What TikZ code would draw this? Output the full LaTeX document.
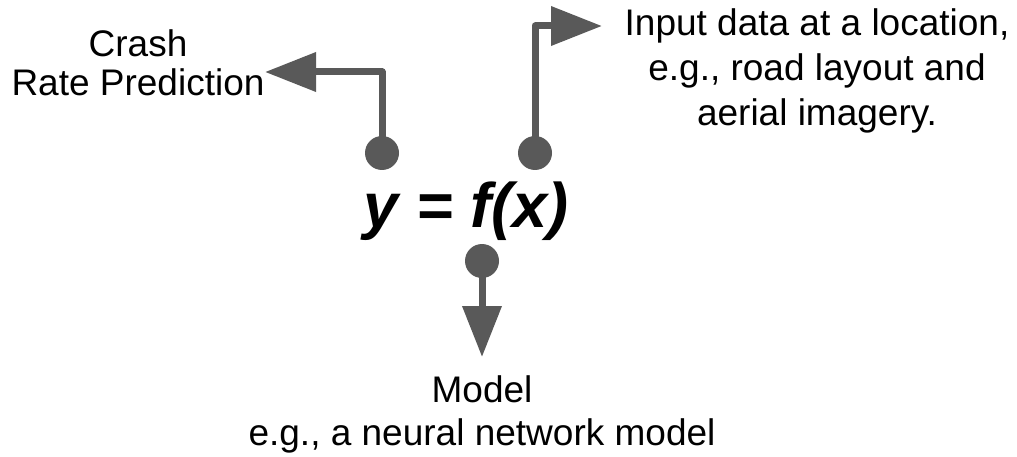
\documentclass[tikz,border=0pt]{standalone}
\usepackage{fontspec}
\setmainfont{Liberation Sans}
\usetikzlibrary{arrows.meta}
\definecolor{pointgray}{RGB}{89,89,89}

\begin{document}
\begin{tikzpicture}[
        x=1pt, y=-1pt,
        desc/.style={
            align=center,
            inner sep=0pt,
            font=\fontsize{37}{45}\selectfont
        },
        dot/.style={
            circle,
            fill=pointgray,
            minimum size=34pt,
            inner sep=0pt
        },
        pointer/.style={
            draw=pointgray,
            line width=7pt,
            line join=round,
            -{Triangle[length=51pt,width=38pt]}
        }
    ]
        \useasboundingbox (0,0) rectangle (1017,457);

        \node[inner sep=0pt, anchor=base, font=\fontsize{63}{75}\selectfont\bfseries\itshape] (formula) at (466,227) {y = f(x)};

        \node[dot] (ydot) at (382,153) {};
        \node[dot] (xdot) at (535,153) {};
        \node[dot] (fdot) at (482,261) {};

        \node[desc, font=\fontsize{37}{39}\selectfont] (crash) at (138,63) {Crash\\Rate Prediction};
        \node[desc] (input) at (817,71) {Input data at a location,\\e.g., road layout and\\aerial imagery.};
        \node[desc, font=\fontsize{37}{43}\selectfont] (model) at (482,414) {Model\\e.g., a neural network model};

        \coordinate (crashtip) at (265,72);
        \coordinate (inputtip) at (602,26);
        \coordinate (modeltip) at (482,357);

        \draw[pointer] (ydot.center) |- (crashtip);
        \draw[pointer] (xdot.center) |- (inputtip);
        \draw[pointer] (fdot.center) -- (modeltip);
    \end{tikzpicture}
\end{document}
